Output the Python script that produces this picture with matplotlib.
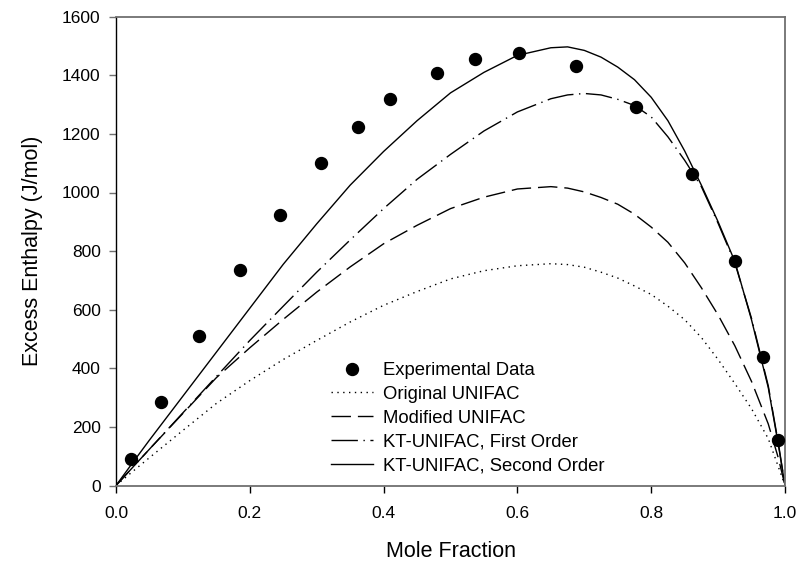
import matplotlib
matplotlib.use("Agg")
import matplotlib.pyplot as plt

plt.rcParams['font.family'] = ['Liberation Sans', 'DejaVu Sans']

# Experimental data
x_exp = [0.022, 0.067, 0.124, 0.186, 0.245, 0.307, 0.361, 0.410, 0.480, 0.536,
         0.603, 0.688, 0.778, 0.861, 0.925, 0.967, 0.989]
y_exp = [90, 284, 511, 735, 924, 1100, 1225, 1319, 1408, 1455,
         1475, 1432, 1293, 1064, 766, 437, 155]

# Model curves
x_model = [0, 0.025, 0.05, 0.1, 0.15, 0.2, 0.25, 0.3, 0.35, 0.4, 0.45, 0.5, 0.55,
           0.6, 0.65, 0.675, 0.7, 0.725, 0.75, 0.775, 0.8, 0.825, 0.85, 0.875,
           0.9, 0.925, 0.95, 0.975, 0.99, 1.0]
y_original = [0, 48, 95, 188, 280, 358, 430, 495, 558, 615, 662, 705, 733,
              750, 757, 754, 745, 728, 708, 681, 652, 612, 566, 505,
              430, 348, 262, 160, 64, 0]
y_modified = [0, 62, 124, 246, 368, 470, 567, 660, 746, 825, 888, 945, 984,
              1012, 1020, 1015, 1002, 983, 960, 926, 882, 830, 760, 675,
              582, 477, 355, 210, 94, 0]
y_kt1 = [0, 62, 124, 248, 372, 495, 612, 728, 838, 945, 1045, 1130, 1210,
         1275, 1320, 1333, 1338, 1333, 1318, 1297, 1258, 1190, 1110, 1020,
         895, 760, 570, 340, 145, 0]
y_kt2 = [0, 78, 155, 305, 455, 605, 755, 893, 1025, 1140, 1245, 1340, 1410,
         1468, 1494, 1497, 1485, 1462, 1428, 1385, 1325, 1245, 1142, 1025,
         900, 765, 565, 334, 140, 0]

labels = ["Experimental Data", "Original UNIFAC", "Modified UNIFAC",
          "KT-UNIFAC, First Order", "KT-UNIFAC, Second Order"]
x_ticks = [0.0, 0.2, 0.4, 0.6, 0.8, 1.0]
x_ticklabels = ["0.0", "0.2", "0.4", "0.6", "0.8", "1.0"]
y_ticks = [0, 200, 400, 600, 800, 1000, 1200, 1400, 1600]

W, H = 802, 563
fig = plt.figure(figsize=(W / 100, H / 100), dpi=100)
ax = fig.add_axes([116 / W, 1 - 485.5 / H, (785 - 116) / W, (485.5 - 16.7) / H])

fs = 12.5
lfs = 15.5
legfs = 13.3
ax.plot(x_exp, y_exp, 'o', color='black', markersize=8.6, label=labels[0],
        clip_on=False, zorder=5)
ax.plot(x_model, y_original, color='black', lw=1.0, linestyle=(0, (1, 3.2)),
        label=labels[1])
ax.plot(x_model, y_modified, color='black', lw=1.0, linestyle=(0, (14, 5)),
        label=labels[2])
ax.plot(x_model, y_kt1, color='black', lw=1.0, linestyle=(0, (19, 4, 1, 4)),
        label=labels[3])
ax.plot(x_model, y_kt2, color='black', lw=1.0, linestyle='-', label=labels[4])

ax.set_xlim(0, 1.0)
ax.set_ylim(0, 1600)
ax.set_xticks(x_ticks)
ax.set_xticklabels(x_ticklabels)
ax.set_yticks(y_ticks)

for s in ['top', 'right', 'bottom']:
    ax.spines[s].set_color('#707070')
    ax.spines[s].set_linewidth(1.3)
ax.spines['left'].set_color('black')
ax.spines['left'].set_linewidth(1.0)

ax.tick_params(axis='x', direction='out', length=5, width=1, color='black',
               labelsize=fs, pad=10)
ax.tick_params(axis='y', direction='out', length=5, width=1, color='#707070',
               labelsize=fs, pad=6)

ax.set_xlabel("Mole Fraction", fontsize=lfs, labelpad=14)
ax.set_ylabel("Excess Enthalpy (J/mol)", fontsize=lfs, labelpad=13.5)

leg = ax.legend(loc='upper left', bbox_to_anchor=(331 / W, 1 - 362 / H),
                bbox_transform=fig.transFigure, frameon=False, fontsize=legfs,
                borderpad=0, borderaxespad=0, handlelength=2.25,
                handletextpad=0.55, labelspacing=0.37, markerscale=1.0)

fig.savefig("out.png", dpi=100)
